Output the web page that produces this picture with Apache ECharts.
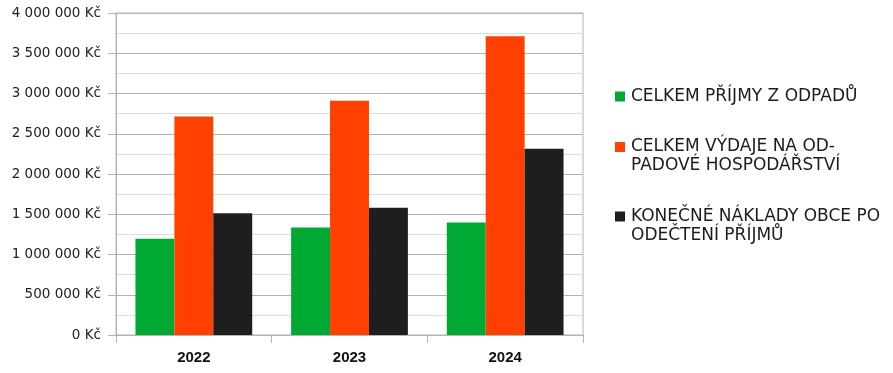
<!DOCTYPE html>
<html>
<head>
<meta charset="utf-8">
<script src="https://cdn.jsdelivr.net/npm/echarts@6/dist/echarts.min.js"></script>
<style>html,body{margin:0;padding:0;background:#fff}#c{width:893px;height:373px}</style>
</head>
<body>
<div id="c"></div>
<script>
const categories = ['2022', '2023', '2024'];
const seriesNames = ['CELKEM PŘÍJMY Z ODPADŮ', 'CELKEM VÝDAJE NA OD-\nPADOVÉ HOSPODÁŘSTVÍ', 'KONEČNÉ NÁKLADY OBCE PO\nODEČTENÍ PŘÍJMŮ'];
const prijmy = [1195000, 1335000, 1397000];
const vydaje = [2715000, 2910000, 3710000];
const naklady = [1513000, 1580000, 2313000];
const yTicks = [0, 500000, 1000000, 1500000, 2000000, 2500000, 3000000, 3500000, 4000000];
const colors = ['#00a933', '#ff4000', '#1e1e1e'];

const values = [prijmy, vydaje, naklady];
const fmt = v => String(v).replace(/\B(?=(\d{3})+(?!\d))/g, ' ') + ' Kč';

const rich = { t: { fontFamily: 'DejaVu Sans', fontSize: 17, color: '#1c1c1c', lineHeight: 19 },
               g: { width: 6, lineHeight: 19 }, ind: { width: 16, lineHeight: 19 } };
colors.forEach((c, i) => { rich['s' + i] = { width: 10, height: 10, backgroundColor: c, lineHeight: 19 }; });

const chart = echarts.init(document.getElementById('c'), null, { renderer: 'canvas' });
chart.setOption({
  animation: false,
  color: colors,
  grid: { left: 116, right: 310, top: 13, bottom: 38, show: true, borderColor: '#b3b3b3', borderWidth: 1, containLabel: false },
  legend: {
    orient: 'vertical', left: 610, top: 87, padding: 0, itemGap: 31.5,
    icon: 'none', itemWidth: 0, itemHeight: 0,
    data: seriesNames,
    textStyle: { fontFamily: 'DejaVu Sans', fontSize: 17, color: '#1c1c1c', lineHeight: 19, rich: rich },
    formatter: function (name) {
      const i = seriesNames.indexOf(name);
      return name.split('\n').map((line, k) => (k === 0 ? '{s' + i + '|}{g|}' : '{ind|}') + '{t|' + line + '}').join('\n');
    }
  },
  xAxis: {
    type: 'category', data: categories,
    axisLine: { show: true, lineStyle: { color: '#b3b3b3' } },
    axisTick: { show: true, length: 8, alignWithLabel: false, lineStyle: { color: '#b3b3b3' } },
    axisLabel: { margin: 15, fontFamily: 'Liberation Sans', fontWeight: 'bold', fontSize: 15, color: '#111' },
    splitLine: { show: false }
  },
  yAxis: {
    type: 'value', min: yTicks[0], max: yTicks[yTicks.length - 1], interval: yTicks[1] - yTicks[0],
    axisLine: { show: true, lineStyle: { color: '#b3b3b3' } },
    axisTick: { show: true, length: 8, lineStyle: { color: '#b3b3b3' } },
    minorTick: { show: false, splitNumber: 2 },
    axisLabel: { margin: 15, fontFamily: 'DejaVu Sans', fontSize: 13.5, color: '#222', formatter: fmt },
    splitLine: { show: true, lineStyle: { color: '#b3b3b3' } },
    minorSplitLine: { show: true, lineStyle: { color: '#dddddd' } }
  },
  series: seriesNames.map((n, i) => ({
    name: n, type: 'bar', data: values[i], barGap: '0%', barCategoryGap: '25%',
    itemStyle: { color: colors[i] }
  }))
});
</script>
</body>
</html>
